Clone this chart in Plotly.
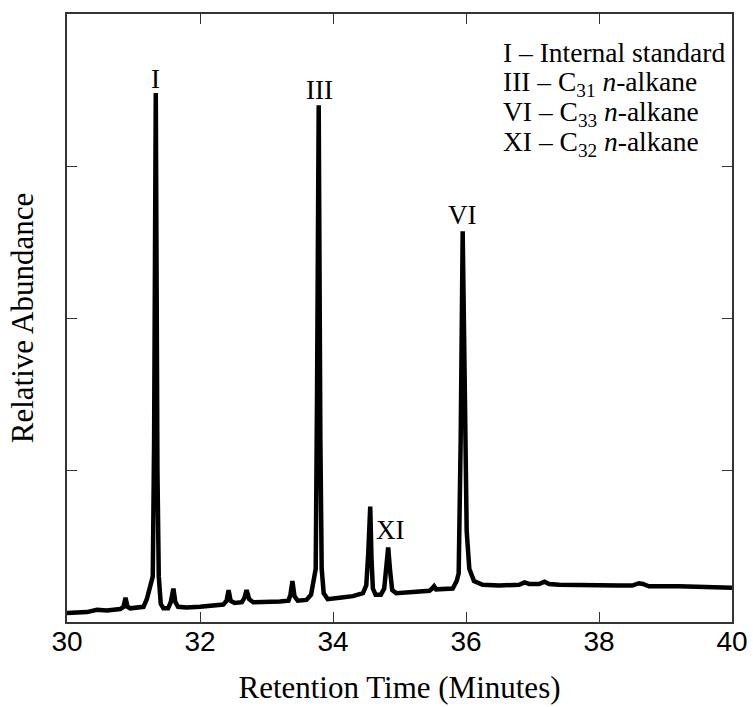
import plotly.graph_objects as go

# Retention time (minutes) and relative abundance
rt = [30.0, 30.3, 30.45, 30.6, 30.8, 30.85, 30.88, 30.91, 30.95, 31.15, 31.20, 31.25, 31.29, 31.31,
      31.335, 31.36, 31.38, 31.41, 31.45, 31.52, 31.56, 31.60, 31.63, 31.67, 31.8, 32.0, 32.2, 32.35,
      32.40, 32.43, 32.46, 32.52, 32.63, 32.67, 32.70, 32.74, 32.8, 33.0, 33.2, 33.33, 33.36, 33.39,
      33.42, 33.47, 33.6, 33.67, 33.70, 33.74, 33.76, 33.785, 33.81, 33.83, 33.86, 33.92, 34.1, 34.3,
      34.45, 34.50, 34.53, 34.56, 34.58, 34.60, 34.64, 34.72, 34.77, 34.80, 34.83, 34.86, 34.89, 34.95,
      35.2, 35.45, 35.49, 35.52, 35.55, 35.7, 35.80, 35.86, 35.89, 35.92, 35.95, 35.98, 36.01, 36.05,
      36.12, 36.25, 36.5, 36.8, 36.88, 36.95, 37.1, 37.18, 37.25, 37.4, 37.8, 38.3, 38.5, 38.6, 38.66,
      38.75, 39.2, 39.6, 40.0]
abundance = [0.06, 0.065, 0.08, 0.075, 0.085, 0.10, 0.16, 0.10, 0.09, 0.10, 0.15, 0.23, 0.30, 1.2,
             3.48, 1.0, 0.3, 0.12, 0.09, 0.09, 0.13, 0.22, 0.13, 0.10, 0.095, 0.10, 0.11, 0.115,
             0.14, 0.21, 0.14, 0.125, 0.13, 0.16, 0.21, 0.15, 0.13, 0.13, 0.135, 0.14, 0.18, 0.27,
             0.17, 0.14, 0.145, 0.18, 0.24, 0.35, 1.5, 3.40, 1.2, 0.35, 0.19, 0.15, 0.16, 0.17,
             0.19, 0.24, 0.45, 0.76, 0.4, 0.22, 0.18, 0.18, 0.22, 0.35, 0.49, 0.33, 0.21, 0.19,
             0.20, 0.205, 0.22, 0.235, 0.215, 0.215, 0.22, 0.27, 0.32, 1.2, 2.57, 1.6, 0.6, 0.35,
             0.27, 0.245, 0.24, 0.245, 0.26, 0.25, 0.25, 0.265, 0.25, 0.245, 0.24, 0.24, 0.24, 0.255, 0.25,
             0.235, 0.235, 0.23, 0.225]

peak_labels = ["I", "III", "XI", "VI"]
peak_x = [31.335, 33.79, 34.86, 35.95]
peak_y = [3.57, 3.50, 0.605, 2.68]

legend_lines = ["I – Internal standard",
                "III – C<sub>31</sub> <i>n</i>-alkane",
                "VI – C<sub>33</sub> <i>n</i>-alkane",
                "XI – C<sub>32</sub> <i>n</i>-alkane"]

x_ticks = [30, 32, 34, 36, 38, 40]
y_ticks = [1, 2, 3]

serif = "Liberation Serif"
sans = "Liberation Sans"

fig = go.Figure()
fig.add_trace(go.Scatter(x=rt, y=abundance, mode="lines",
                         line=dict(color="black", width=4.5), showlegend=False, hoverinfo="skip"))

for lab, x, y in zip(peak_labels, peak_x, peak_y):
    fig.add_annotation(x=x, y=y, text=lab, showarrow=False, xanchor="center", yanchor="middle",
                       font=dict(family=serif, size=27, color="black"))

leg_y = [0.937, 0.885, 0.836, 0.787]
for line, y in zip(legend_lines, leg_y):
    fig.add_annotation(xref="paper", yref="paper", x=0.652, y=y, text=line, showarrow=False,
                       xanchor="left", yanchor="middle", align="left",
                       font=dict(family=serif, size=27.5, color="black"))

axis_common = dict(showline=True, linecolor="#333333", linewidth=1.5, mirror="ticks",
                   ticks="inside", ticklen=10, tickcolor="#333333", tickwidth=1,
                   showgrid=False, zeroline=False, automargin=False)

fig.update_layout(
    width=753, height=707,
    margin=dict(l=67, r=21, t=14, b=85),
    paper_bgcolor="white", plot_bgcolor="white",
    xaxis=dict(range=[30, 40], tickvals=x_ticks, ticktext=[str(v) for v in x_ticks],
               tickfont=dict(family=sans, size=28, color="black"), ticklabelstandoff=-6,
               title=dict(text="Retention Time (Minutes)", font=dict(family=serif, size=31, color="black"),
                          standoff=20),
               **axis_common),
    yaxis=dict(range=[0, 4], tickvals=y_ticks, showticklabels=False,
               title=dict(text="Relative Abundance", font=dict(family=serif, size=31, color="black"),
                          standoff=22),
               **axis_common),
)

fig.write_html("out.html")
